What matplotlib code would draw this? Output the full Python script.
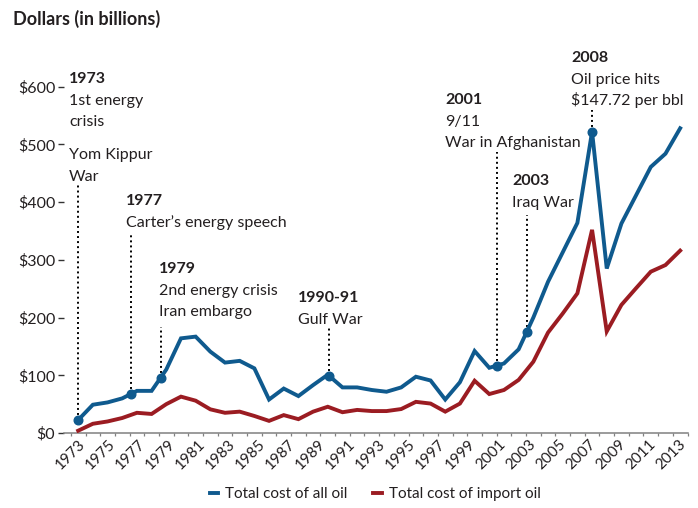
import numpy as np
import matplotlib
matplotlib.use('Agg')
from matplotlib import pyplot as plt

plt.rcParams['font.family'] = ['Lato', 'DejaVu Sans']

W, H = 698, 508  # figure size in pixels

years = np.arange(1973, 2015)
all_oil = [22.5, 49, 53, 60, 73, 73, 110, 164, 167, 141, 122, 125, 112, 58,
           77, 64, 83, 101, 79, 79, 74.5, 71.5, 79, 97.5, 91, 58, 88, 142,
           113, 120.5, 145, 200, 262, 313, 364, 522, 285, 363, 412, 461, 484, 528]
import_oil = [4, 16, 20, 26, 35, 33, 50, 63, 56, 41, 35, 37, 29.5, 21,
              31, 24, 37, 45.5, 36, 40, 38, 38, 41.5, 54, 51, 37, 51, 90.5,
              67.5, 74.5, 92, 123.5, 174, 207, 242, 352, 176, 222, 251, 279.5, 291, 316]

tick_years = [str(y) for y in range(1973, 2014, 2)]
y_ticks = [0, 100, 200, 300, 400, 500, 600]
y_labels = ['$0', '$100', '$200', '$300', '$400', '$500', '$600']

# events marked on the "all oil" line
event_at = [1973.0, 1976.58, 1978.62, 1990.1, 2001.5, 2003.55, 2008.0]
event_year = ['1973', '1977', '1979', '1990-91', '2001', '2003', '2008']
event_text = [['1st energy', 'crisis'],
              ["Carter\u2019s energy speech"],
              ['2nd energy crisis', 'Iran embargo'],
              ['Gulf War'],
              ['9/11', 'War in Afghanistan'],
              ['Iraq War'],
              ['Oil price hits', '$147.72 per bbl']]
extra_note = ['Yom Kippur', 'War']

# text placement, pixels: left x, baseline of first line, top of dotted line
label_px = [(69, 83), (126, 205), (159, 273), (298, 302), (445, 104), (512, 185), (571, 62)]
stem_top_px = [185, 233, 327, 327, 152, 215, 110]
note_px = (69, 159)
LINE = 21.7

BLUE = '#0f5a8e'
RED = '#9b1c22'
INK = '#231f20'

fig = plt.figure(figsize=(W / 100, H / 100), dpi=100)
ax = fig.add_axes([63.5 / W, 75 / H, 624 / W, 404 / H])

x = np.arange(len(years))
ax.plot(x, all_oil, color=BLUE, lw=2.8, solid_joinstyle='miter', label='Total cost of all oil', zorder=3)
ax.plot(x, import_oil, color=RED, lw=2.8, solid_joinstyle='miter', label='Total cost of import oil', zorder=3)

ax.set_xlim(-1.0, 41.5)
ax.set_ylim(0, 700)

for s in ['top', 'right', 'left']:
    ax.spines[s].set_visible(False)
ax.spines['bottom'].set_color('#808080')
ax.spines['bottom'].set_linewidth(1.1)

ax.set_xticks(np.arange(-0.5, 42, 1))
ax.tick_params(axis='x', which='major', length=2.5, width=0.9, color='#808080', labelbottom=False)
ax.set_xticks(np.linspace(0.0, 40.9, len(tick_years)), tick_years, minor=True)
ax.tick_params(axis='x', which='minor', length=0, pad=3, labelsize=11, labelcolor=INK)
for t in ax.get_xticklabels(minor=True):
    t.set_rotation(45)
    t.set_ha('right')
    t.set_va('top')
    t.set_rotation_mode('anchor')

ax.set_yticks(y_ticks, y_labels)
ax.tick_params(axis='y', length=4.5, width=1.0, color='#333333', pad=1.5, labelsize=11.5, labelcolor=INK)

inv = ax.transData.inverted()
for i in range(len(event_at)):
    xd = event_at[i] - years[0]
    yd = np.interp(xd, x, all_oil)
    ytop = inv.transform((0, H - stem_top_px[i]))[1]
    ax.plot([xd, xd], [yd, ytop], color='black', lw=1.4, ls=(0, (1, 1.6)), zorder=2)
    ax.plot(xd, yd, 'o', color=BLUE, ms=6.2, zorder=4)

    lx, ly = label_px[i]
    fig.text(lx / W, 1 - ly / H, event_year[i], fontsize=11.5, fontweight='bold',
             color=INK, va='baseline', ha='left')
    for j, line in enumerate(event_text[i]):
        fig.text(lx / W, 1 - (ly + LINE * (j + 1)) / H, line, fontsize=11.5,
                 color=INK, va='baseline', ha='left')

for j, line in enumerate(extra_note):
    fig.text(note_px[0] / W, 1 - (note_px[1] + LINE * j) / H, line, fontsize=11.5,
             color=INK, va='baseline', ha='left')

fig.text(13 / W, 1 - 25 / H, 'Dollars (in billions)', fontsize=13, fontweight='bold',
         color=INK, va='baseline', ha='left')

ax.legend(loc='center', bbox_to_anchor=(375 / W, 1 - 494 / H), bbox_transform=fig.transFigure,
          ncol=2, frameon=False, handlelength=0.55, handletextpad=0.45, columnspacing=1.7,
          fontsize=11, borderpad=0, borderaxespad=0, labelcolor=INK)

fig.savefig('out.png', dpi=100)
